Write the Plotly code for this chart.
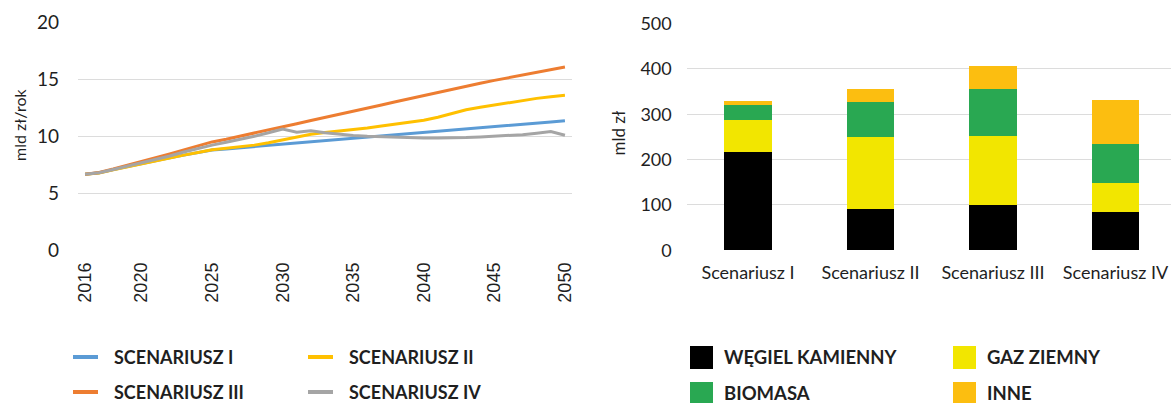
import plotly.graph_objects as go

# ---- data -------------------------------------------------------------
years = list(range(2016, 2051))

scen_1 = [6.65, 6.78, 7.05, 7.32, 7.58, 7.84, 8.08, 8.32, 8.55, 8.77,
          8.87, 8.97, 9.07, 9.17, 9.27, 9.38, 9.48, 9.58, 9.69, 9.79,
          9.89, 9.99, 10.10, 10.20, 10.30, 10.41, 10.51, 10.62, 10.72, 10.82,
          10.93, 11.03, 11.13, 11.23, 11.34]
scen_2 = [6.65, 6.76, 7.03, 7.30, 7.56, 7.82, 8.07, 8.32, 8.56, 8.80,
          8.92, 9.05, 9.20, 9.40, 9.64, 9.90, 10.15, 10.30, 10.42, 10.55,
          10.70, 10.88, 11.04, 11.20, 11.39, 11.65, 12.00, 12.30, 12.52, 12.72,
          12.92, 13.12, 13.30, 13.45, 13.57]
scen_3 = [6.65, 6.80, 7.10, 7.42, 7.75, 8.08, 8.42, 8.78, 9.14, 9.48,
          9.72, 9.98, 10.24, 10.52, 10.80, 11.08, 11.36, 11.62, 11.88, 12.14,
          12.43, 12.72, 13.00, 13.28, 13.55, 13.82, 14.10, 14.37, 14.63, 14.88,
          15.12, 15.35, 15.60, 15.83, 16.05]
scen_4 = [6.65, 6.77, 7.06, 7.35, 7.64, 7.93, 8.25, 8.60, 8.92, 9.20,
          9.45, 9.70, 9.98, 10.28, 10.62, 10.33, 10.45, 10.28, 10.15, 10.05,
          9.97, 9.92, 9.88, 9.85, 9.83, 9.82, 9.83, 9.86, 9.92, 9.98,
          10.05, 10.12, 10.25, 10.40, 10.06]

line_names = ["SCENARIUSZ I", "SCENARIUSZ II", "SCENARIUSZ III", "SCENARIUSZ IV"]
line_colors = ["#5B9BD5", "#FFC000", "#ED7D31", "#A5A5A5"]
year_ticks = [2016, 2020, 2025, 2030, 2035, 2040, 2045, 2050]

scenarios = ["Scenariusz I", "Scenariusz II", "Scenariusz III", "Scenariusz IV"]
wegiel = [216, 92, 99, 84]
gaz = [72, 158, 154, 65]
biomasa = [33, 76, 102, 86]
inne = [9, 30, 51, 96]

fuel_names = ["WĘGIEL KAMIENNY", "GAZ ZIEMNY", "BIOMASA", "INNE"]
fuel_colors = ["#000000", "#F2E600", "#29A852", "#FCBE10"]

# ---- page geometry (pixels -> paper fractions) -----------------------
W, H = 1171, 403


def fx(px):
    return px / W


def fy(py):
    return 1 - py / H


TEXT = "#1F1F1F"
GRID = "#DCDCDC"

fig = go.Figure()

for name, color, vals in zip(line_names, line_colors,
                             [scen_1, scen_2, scen_3, scen_4]):
    fig.add_trace(go.Scatter(
        x=years, y=vals, mode="lines", name=name,
        line=dict(color=color, width=3), showlegend=False,
        xaxis="x", yaxis="y"))

for name, color, vals in zip(fuel_names, fuel_colors,
                             [wegiel, gaz, biomasa, inne]):
    fig.add_trace(go.Bar(
        x=scenarios, y=vals, name=name, marker=dict(color=color, line=dict(width=0)),
        showlegend=False, xaxis="x2", yaxis="y2"))

fig.update_layout(
    width=W, height=H,
    margin=dict(l=0, r=0, t=0, b=0, autoexpand=False),
    paper_bgcolor="white", plot_bgcolor="white",
    barmode="stack", bargap=0.61,
    font=dict(family="Lato", color=TEXT),
    xaxis=dict(
        domain=[fx(78), fx(572)], range=[2015.5, 2050.5],
        tickmode="array", tickvals=year_ticks, tickangle=-90,
        tickfont=dict(family="Liberation Sans", size=18, color=TEXT),
        showgrid=False, zeroline=False, showline=False, ticks="",
        ticklabelstandoff=8, anchor="y", automargin=False),
    yaxis=dict(
        domain=[fy(250), fy(22)], range=[0, 20], dtick=5,
        tickfont=dict(family="Lato", size=19, color=TEXT),
        showgrid=True, gridcolor=GRID, gridwidth=1,
        zeroline=False, showline=False, ticks="",
        ticklabelstandoff=18, anchor="x", automargin=False),
    xaxis2=dict(
        domain=[fx(686.75), 1.0], range=[-0.5, 3.453],
        tickfont=dict(family="Lato", size=18, color=TEXT),
        showgrid=False, zeroline=False, showline=False, ticks="",
        ticklabelstandoff=10, anchor="y2", automargin=False),
    yaxis2=dict(
        domain=[fy(250.3), fy(23.5)], range=[0, 500], dtick=100,
        tickfont=dict(family="Lato", size=18, color=TEXT),
        showgrid=True, gridcolor=GRID, gridwidth=1,
        zeroline=False, showline=False, ticks="",
        ticklabelstandoff=14, anchor="x2", automargin=False),
)

# axis titles
fig.add_annotation(text="mld zł/rok", x=fx(20), y=fy(125), xref="paper", yref="paper",
                   textangle=-90, showarrow=False, font=dict(size=16, color=TEXT),
                   xanchor="center", yanchor="middle")
fig.add_annotation(text="mld zł", x=fx(617.5), y=fy(133), xref="paper", yref="paper",
                   textangle=-90, showarrow=False, font=dict(size=17, color=TEXT),
                   xanchor="center", yanchor="middle")

# legend of the line chart (2 x 2)
line_keys = [(73, 357), (308, 357), (73, 392), (308, 392)]
for (kx, ky), name, color in zip(line_keys, line_names, line_colors):
    fig.add_shape(type="line", xref="paper", yref="paper",
                  x0=fx(kx), x1=fx(kx + 25), y0=fy(ky), y1=fy(ky),
                  line=dict(color=color, width=4))
    fig.add_annotation(text="<b>%s</b>" % name, x=fx(kx + 40), y=fy(ky),
                       xref="paper", yref="paper", showarrow=False,
                       xanchor="left", yanchor="middle", borderpad=0,
                       font=dict(size=18, color=TEXT))

# legend of the bar chart (2 x 2)
bar_keys = [(690, 357.5), (953, 357.5), (690, 393.5), (953, 393.5)]
for (kx, ky), name, color in zip(bar_keys, fuel_names, fuel_colors):
    fig.add_shape(type="rect", xref="paper", yref="paper",
                  x0=fx(kx), x1=fx(kx + 23), y0=fy(ky - 11.5), y1=fy(ky + 11.5),
                  fillcolor=color, line=dict(width=0))
    fig.add_annotation(text="<b>%s</b>" % name, x=fx(kx + 33), y=fy(ky - 1),
                       xref="paper", yref="paper", showarrow=False,
                       xanchor="left", yanchor="middle", borderpad=0,
                       font=dict(size=18.5, color=TEXT))

fig.write_html("out.html")
